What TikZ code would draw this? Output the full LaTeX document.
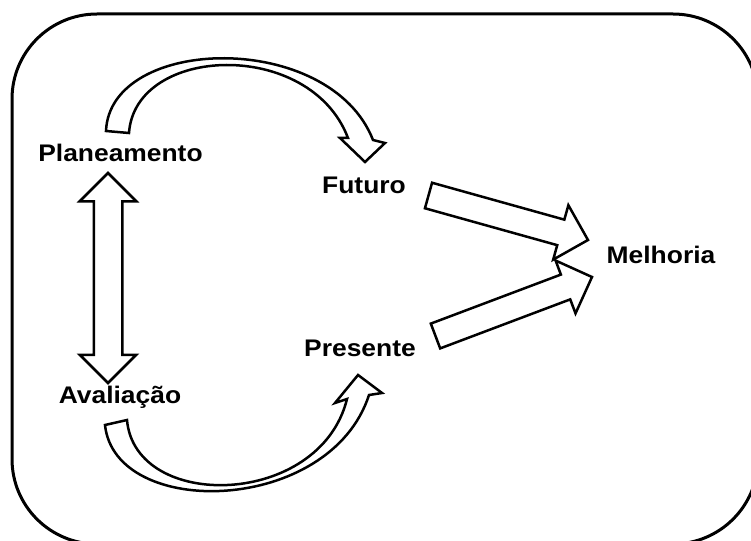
\documentclass[tikz,border=0pt]{standalone}
\usepackage{fontspec}
\newfontfamily\labelfont[FakeStretch=1.1]{Liberation Sans}
\usetikzlibrary{shapes.arrows,calc,positioning}
\tikzset{
	stage/.style={
		font={\labelfont\bfseries\fontsize{24}{24}\selectfont},
		anchor=base,
		inner sep=0pt,
	},
	frame/.style={
		line width=3pt,
		rounded corners=85pt,
	},
	fat arrow/.style={
		single arrow,
		draw=black,
		fill=white,
		line width=2.5pt,
		inner xsep=0pt,
		inner ysep=12pt,
		outer sep=0pt,
		single arrow head extend=15pt,
	},
	twin arrow/.style={
		double arrow,
		draw=black,
		fill=white,
		line width=2.5pt,
		inner xsep=0pt,
		inner ysep=13pt,
		outer sep=0pt,
		double arrow head extend=14pt,
	},
	bent arrow/.style={
		draw=black,
		fill=white,
		line width=2.5pt,
		line join=miter,
	},
}
\newcommand{\blockarrow}[2]{%
	\path let \p1=($(#2)-(#1)$), \n1={atan2(\y1,\x1)}, \n2={veclen(\x1,\y1)} in
		node[fat arrow, minimum height=\n2, rotate=\n1, anchor=tail] (#1-#2) at (#1) {};}

\begin{document}
\begin{tikzpicture}[x=1pt, y=-1pt]
	\useasboundingbox (0,0) rectangle (751,540);
	% frame
	\begin{scope}
		\clip (0,0) rectangle (751,540);
		\draw[frame] (12,14) rectangle (758,544);
	\end{scope}

	% stages
	\node[stage] (plan) at (120.5,161) {Planeamento};
	\node[stage] (eval) at (120,403) {Avaliação};
	\node[stage] (fut) at (364,193) {Futuro};
	\node[stage] (pres) at (360,356) {Presente};
	\node[stage] (better) at (661,263) {Melhoria};

	% arrow ends
	\coordinate (fut-tail) at (428.5,195.5);
	\coordinate (fut-tip) at (588,240);
	\coordinate (pres-tail) at (435.5,336);
	\coordinate (pres-tip) at (592,277);

	% straight arrows
	\blockarrow{fut-tail}{fut-tip}
	\blockarrow{pres-tail}{pres-tip}
	\node[twin arrow, minimum height=210, rotate=90] (loop) at (108,278) {};

	% curved arrows
	\draw[bent arrow] (129,133) .. controls (135,45) and (310,38) .. (348,138)
		-- (340,138) -- (365,162) -- (385,143) -- (373,140)
		.. controls (330,30) and (110,35) .. (106,131) -- cycle;
	\draw[bent arrow] (127,420) .. controls (135,512) and (320,508) .. (347,399)
		-- (335,403) -- (358,375) -- (382,393) -- (369,395)
		.. controls (330,515) and (115,520) .. (105,425) -- cycle;
\end{tikzpicture}
\end{document}
